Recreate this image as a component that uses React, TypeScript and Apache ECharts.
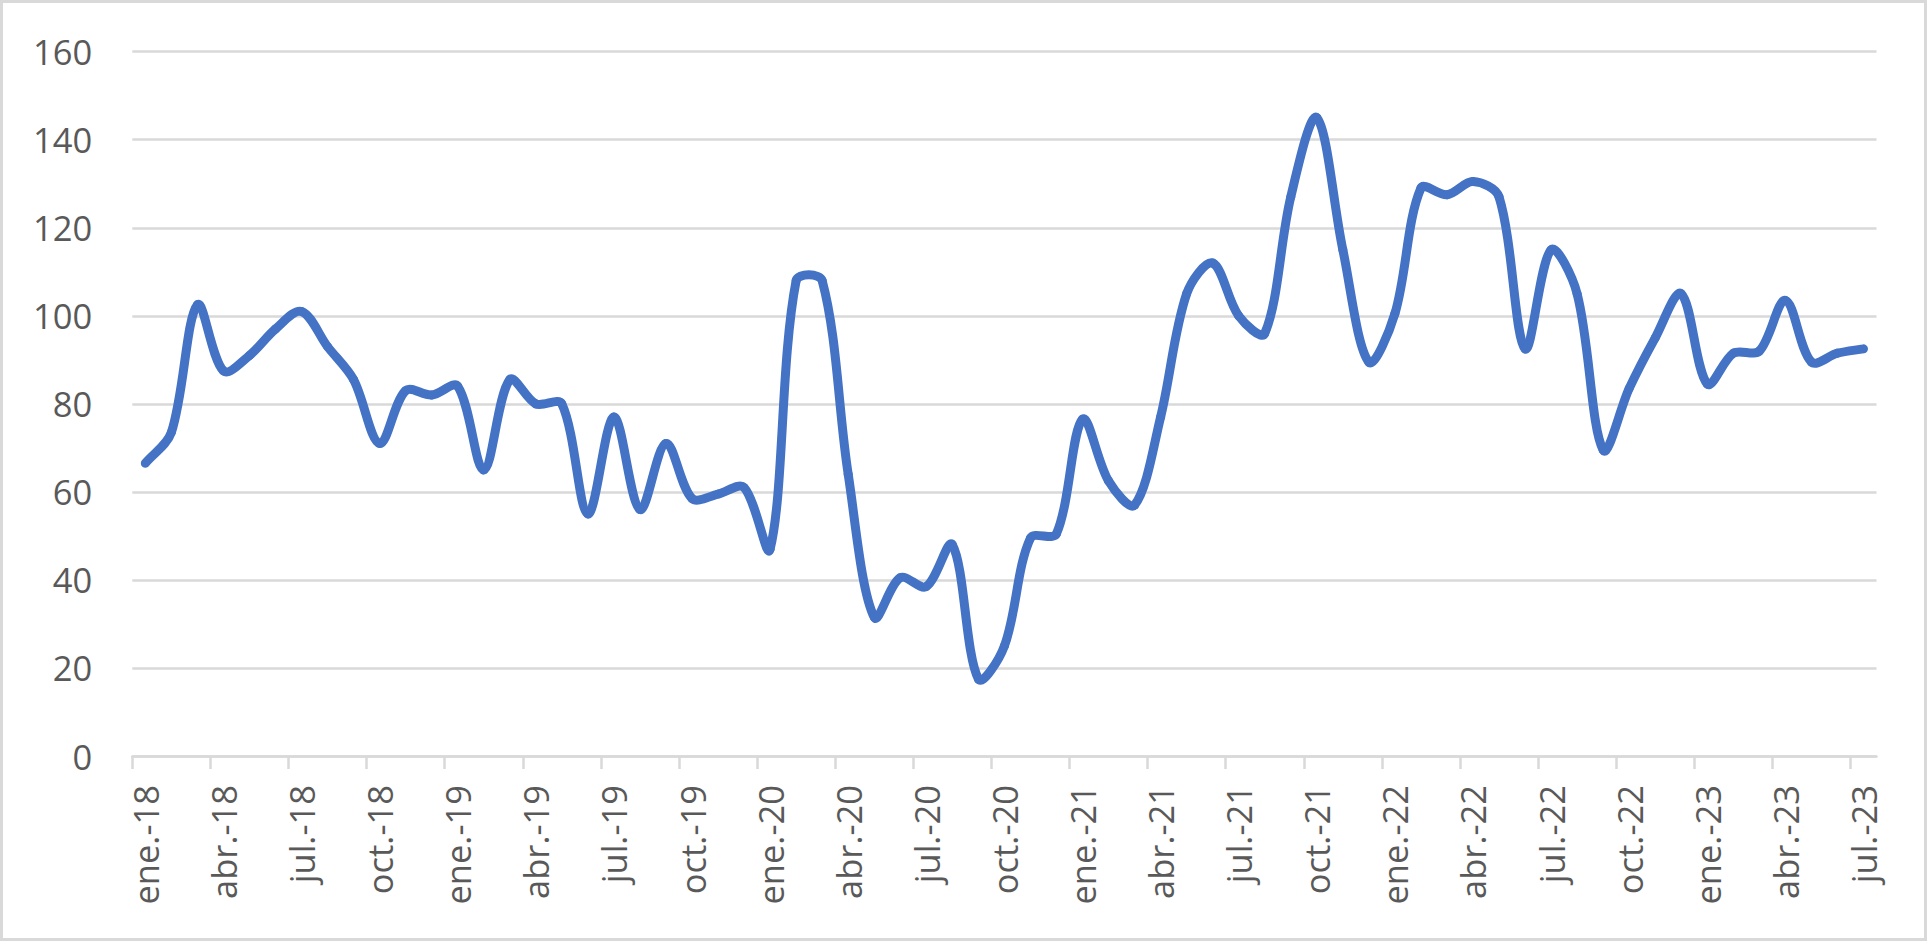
import React, { useEffect, useRef } from "react";
import * as echarts from "echarts";

const categories: string[] = [
  "ene.-18", "feb.-18", "mar.-18", "abr.-18", "may.-18", "jun.-18", "jul.-18", "ago.-18", "sep.-18", "oct.-18", "nov.-18", "dic.-18",
  "ene.-19", "feb.-19", "mar.-19", "abr.-19", "may.-19", "jun.-19", "jul.-19", "ago.-19", "sep.-19", "oct.-19", "nov.-19", "dic.-19",
  "ene.-20", "feb.-20", "mar.-20", "abr.-20", "may.-20", "jun.-20", "jul.-20", "ago.-20", "sep.-20", "oct.-20", "nov.-20", "dic.-20",
  "ene.-21", "feb.-21", "mar.-21", "abr.-21", "may.-21", "jun.-21", "jul.-21", "ago.-21", "sep.-21", "oct.-21", "nov.-21", "dic.-21",
  "ene.-22", "feb.-22", "mar.-22", "abr.-22", "may.-22", "jun.-22", "jul.-22", "ago.-22", "sep.-22", "oct.-22", "nov.-22", "dic.-22",
  "ene.-23", "feb.-23", "mar.-23", "abr.-23", "may.-23", "jun.-23", "jul.-23",
];

const values2018: number[] = [66.5, 73.5, 102.5, 87.5, 91, 97, 101, 93, 85.5, 71, 83, 82];
const values2019: number[] = [84, 65, 85.5, 80, 80, 55, 77, 56, 71, 58.5, 59.5, 61];
const values2020: number[] = [47, 108, 108, 64, 31.5, 40.5, 38.5, 48, 17.5, 25, 49.5, 50.5];
const values2021: number[] = [76.5, 62.5, 57, 77, 105, 112, 100, 96, 127, 145, 115, 89.5];
const values2022: number[] = [100.5, 129, 127.5, 130.5, 127, 92.5, 115, 105, 69.5, 83.5, 95, 105];
const values2023: number[] = [84.5, 91.5, 92, 103.5, 89.5, 91.5, 92.5];

const yTicks: number[] = [0, 20, 40, 60, 80, 100, 120, 140, 160];
const tickEvery = 3;
const SMOOTH = 0.33;

export default function App() {
  const ref = useRef<HTMLDivElement>(null);

  useEffect(() => {
    document.body.style.margin = "0";
    if (!ref.current) return;
    const chart = echarts.init(ref.current, undefined, { renderer: "svg" });

    const values = [...values2018, ...values2019, ...values2020, ...values2021, ...values2022, ...values2023];
    const n = values.length;
    const data = values.map((v, i) => [i + 0.5, v]);
    const tickIdx = categories.map((_, i) => i).filter((i) => i % tickEvery === 0);

    const font = "'Open Sans', 'Noto Sans', sans-serif";
    const gridColor = "#D9D9D9";
    const lineColor = "#4472C4";

    // control points of the smoothed line, computed in pixel space from the axis scales
    const ctrl = (api: any, i: number) => {
      const p = api.coord(data[i]);
      const a = api.coord(data[Math.max(0, i - 1)]);
      const b = api.coord(data[Math.min(n - 1, i + 1)]);
      const vx = b[0] - a[0];
      const vy = b[1] - a[1];
      const d0 = Math.hypot(p[0] - a[0], p[1] - a[1]);
      const d1 = Math.hypot(b[0] - p[0], b[1] - p[1]);
      const r = d0 + d1 > 0 ? d1 / (d0 + d1) : 0.5;
      return {
        p,
        cin: [p[0] - vx * SMOOTH * (1 - r), p[1] - vy * SMOOTH * (1 - r)],
        cout: [p[0] + vx * SMOOTH * r, p[1] + vy * SMOOTH * r],
      };
    };

    chart.setOption({
      animation: false,
      backgroundColor: "#ffffff",
      grid: {
        left: 132.3,
        right: 51.5,
        top: 51.7,
        bottom: 185,
        containLabel: false,
        outerBoundsMode: "none",
      },
      xAxis: {
        type: "value",
        min: 0,
        max: categories.length,
        splitLine: { show: false },
        axisLine: { show: true, lineStyle: { color: gridColor, width: 2.5 } },
        axisTick: {
          show: true,
          customValues: tickIdx,
          length: 13,
          inside: false,
          lineStyle: { color: gridColor, width: 2.5 },
        },
        axisLabel: {
          customValues: tickIdx.map((i) => i + 0.5),
          rotate: 90,
          margin: 29,
          color: "#595959",
          fontFamily: font,
          fontSize: 34.5,
          formatter: (v: number) => categories[Math.round(v - 0.5)] ?? "",
        },
      },
      yAxis: {
        type: "value",
        min: yTicks[0],
        max: yTicks[yTicks.length - 1],
        interval: 20,
        axisLine: { show: false },
        axisTick: { show: false },
        splitLine: { show: true, lineStyle: { color: gridColor, width: 2.5 } },
        axisLabel: {
          margin: 40,
          color: "#595959",
          fontFamily: font,
          fontSize: 34.5,
        },
      },
      series: [
        {
          type: "custom",
          data,
          encode: { x: 0, y: 1 },
          clip: false,
          renderItem: (params: any, api: any) => {
            const i = params.dataIndex;
            if (i >= n - 1) return null;
            const s = ctrl(api, i);
            const e = ctrl(api, i + 1);
            return {
              type: "bezierCurve",
              shape: {
                x1: s.p[0],
                y1: s.p[1],
                cpx1: s.cout[0],
                cpy1: s.cout[1],
                cpx2: e.cin[0],
                cpy2: e.cin[1],
                x2: e.p[0],
                y2: e.p[1],
              },
              style: { stroke: lineColor, lineWidth: 9, fill: "none", lineCap: "round", lineJoin: "round" },
            };
          },
        },
      ],
      graphic: [
        {
          type: "rect",
          silent: true,
          shape: { x: 1.5, y: 1.5, width: 1924, height: 938 },
          style: { fill: "none", stroke: gridColor, lineWidth: 3 },
        },
      ],
    });

    return () => chart.dispose();
  }, []);

  return <div ref={ref} style={{ width: 1928, height: 941 }} />;
}
